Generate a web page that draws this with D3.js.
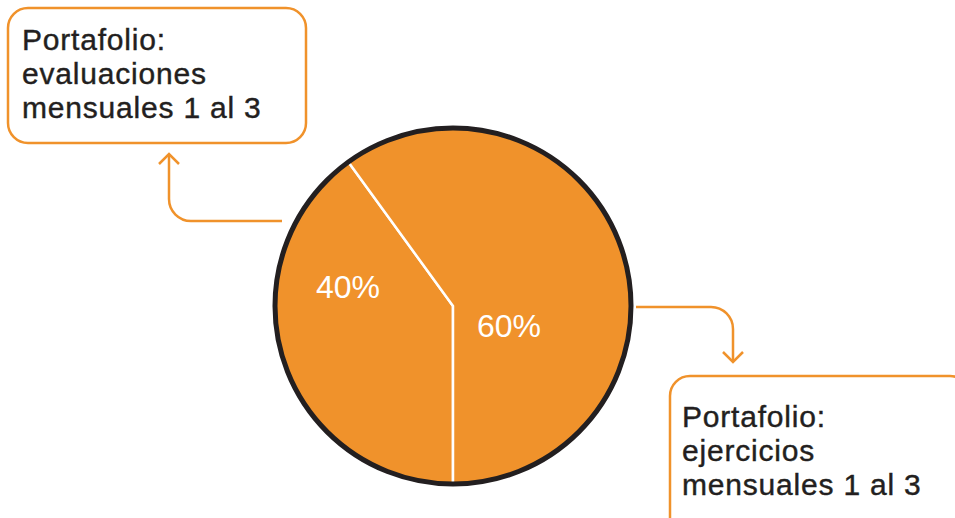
<!DOCTYPE html>
<html>
<head>
<meta charset="utf-8">
<script src="https://cdn.jsdelivr.net/npm/d3@7"></script>
<style>
  html, body { margin: 0; padding: 0; background: #fff; }
  svg { display: block; }
</style>
</head>
<body>
<svg width="955" height="518"></svg>
<script>
// slice data
var categories = ['Portafolio: evaluaciones mensuales 1 al 3', 'Portafolio: ejercicios mensuales 1 al 3'];
var values = [40, 60];
var sliceLabels = ['40%', '60%'];

// callout text, one array per box
var boxLinesA = ['Portafolio:', 'evaluaciones', 'mensuales 1 al 3'];
var boxLinesB = ['Portafolio:', 'ejercicios', 'mensuales 1 al 3'];

var orange = '#F0922B';
var ink = '#231F20';
var font = '"Liberation Sans", Arial, sans-serif';

var svg = d3.select('svg');

var cx = 453, cy = 306, r = 178;

var pie = d3.pie()
   .sort(null)
   .startAngle(Math.PI)
   .endAngle(3 * Math.PI)
   .value(function(d){ return d; });

var arcs = pie(values);
var arc = d3.arc().innerRadius(0).outerRadius(r);

var g = svg.append('g').attr('transform', 'translate(' + cx + ',' + cy + ')');

// slices
g.selectAll('path.slice')
   .data(arcs)
   .enter()
   .append('path')
   .attr('class', 'slice')
   .attr('d', arc)
   .attr('fill', orange)
   .attr('stroke', '#fff')
   .attr('stroke-width', 2.5)
   .attr('stroke-linejoin', 'round');

// black rim
g.append('circle')
   .attr('r', r)
   .attr('fill', 'none')
   .attr('stroke', ink)
   .attr('stroke-width', 5);

// percent labels
var labelPos = [[-105, -8], [56, 31]];
g.selectAll('text.pct')
   .data(arcs)
   .enter()
   .append('text')
   .attr('class', 'pct')
   .attr('x', function(d, i){ return labelPos[i][0]; })
   .attr('y', function(d, i){ return labelPos[i][1]; })
   .attr('text-anchor', 'middle')
   .attr('fill', '#fff')
   .style('font-family', font)
   .style('font-size', '32px')
   .text(function(d, i){ return sliceLabels[i]; });

// callout boxes
function drawBox(x, y, w, h, lines, tx, ty) {
   svg.append('rect')
      .attr('x', x).attr('y', y)
      .attr('width', w).attr('height', h)
      .attr('rx', 20).attr('ry', 20)
      .attr('fill', '#fff')
      .attr('stroke', orange)
      .attr('stroke-width', 2.5);
   svg.append('g').selectAll('text')
      .data(lines)
      .enter()
      .append('text')
      .attr('x', tx)
      .attr('y', function(d, i){ return ty + i * 34; })
      .attr('fill', ink)
      .attr('stroke', ink)
      .attr('stroke-width', 0.4)
      .style('font-family', font)
      .style('font-size', '30px')
      .style('letter-spacing', '0.8px')
      .text(function(d){ return d; });
}

drawBox(8, 8, 298, 135, boxLinesA, 22, 50);
drawBox(670, 376, 300, 170, boxLinesB, 682, 427);

// connector arrows
var line = d3.line().curve(d3.curveLinear);
function connector(pathD, head) {
   svg.append('path')
      .attr('d', pathD)
      .attr('fill', 'none')
      .attr('stroke', orange)
      .attr('stroke-width', 2.5);
   svg.append('path')
      .attr('d', line(head))
      .attr('fill', 'none')
      .attr('stroke', orange)
      .attr('stroke-width', 2.5);
}

var p1 = d3.path();
p1.moveTo(282, 221);
p1.lineTo(191, 221);
p1.arcTo(169, 221, 169, 199, 22);
p1.lineTo(169, 154);
connector(p1.toString(), [[159, 164], [169, 154], [179, 164]]);

var p2 = d3.path();
p2.moveTo(636, 307);
p2.lineTo(711, 307);
p2.arcTo(733, 307, 733, 329, 22);
p2.lineTo(733, 362);
connector(p2.toString(), [[723, 352], [733, 362], [743, 352]]);
</script>
</body>
</html>
